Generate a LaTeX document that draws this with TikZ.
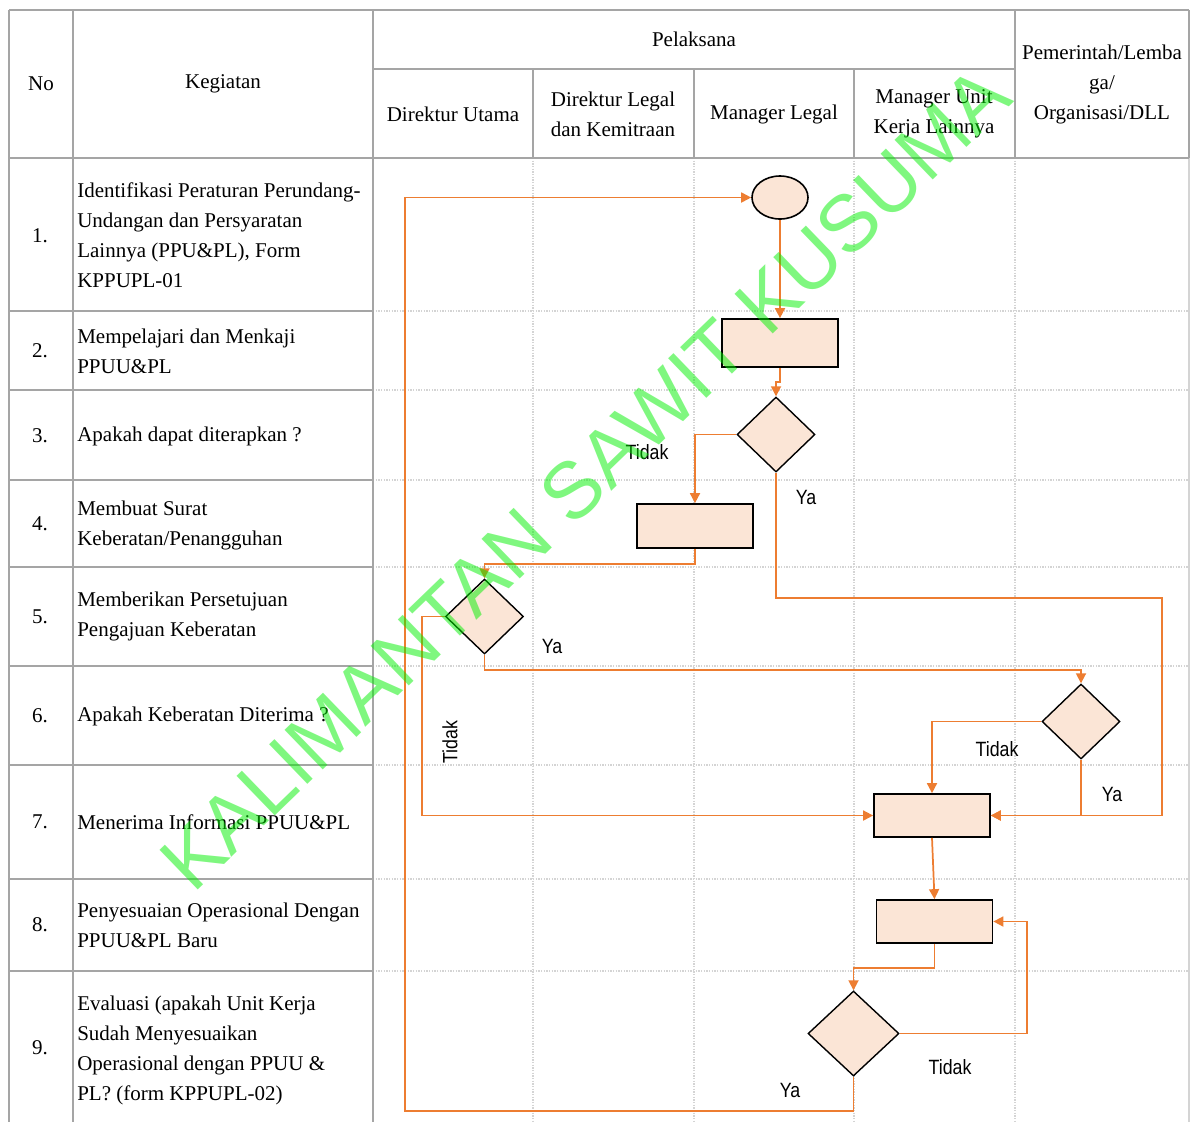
\documentclass[tikz,border=0pt]{standalone}
\usepackage{fontspec}
\setmainfont{Liberation Serif}
\newfontfamily\lblfont{Liberation Sans}
\newfontfamily\ynfont[FakeStretch=0.86]{Liberation Sans}
\usetikzlibrary{shapes.geometric,arrows.meta}
\definecolor{floworange}{RGB}{237,125,49}
\definecolor{boxfill}{RGB}{251,229,214}
\definecolor{tblgray}{RGB}{165,165,165}
\definecolor{lanegray}{RGB}{212,212,212}
\definecolor{wmgreen}{RGB}{0,240,0}

\begin{document}
\begin{tikzpicture}[x=0.75pt,y=-0.75pt,
  txt/.style={font=\fontsize{15.75}{22.5}\selectfont,align=left,anchor=west,inner sep=0pt},
  hdr/.style={font=\fontsize{15.75}{22.5}\selectfont,align=center,inner sep=0pt},
  tbl/.style={tblgray,line width=1.8pt},
  lane/.style={lanegray,line width=1pt,densely dotted},
  proc/.style={draw,fill=boxfill,line width=1.3pt,minimum width=87pt,minimum height=33pt,inner sep=0pt},
  dec/.style={diamond,draw,fill=boxfill,line width=1.05pt,minimum width=58.5pt,minimum height=56.25pt,inner sep=0pt},
  flow/.style={floworange,line width=1.3pt,-{Triangle[length=7.5pt,width=7.5pt]}},
  yn/.style={font=\ynfont\fontsize{15.5}{18}\selectfont,inner sep=1pt}]
      \useasboundingbox (0,0) rectangle (1192,1122);
      \foreach \y in {311,390,480,567,666,765,879,971} \draw[lane] (373,\y) -- (1189,\y);
      \foreach \x in {533,694,854,1015} \draw[lane] (\x,158) -- (\x,1122);
      \draw[lanegray,line width=1.8pt] (1189,158) -- (1189,1122);
      \draw[tbl] (9,10) -- (1189,10);
      \draw[tbl] (9,158) -- (1189,158);
      \draw[tbl] (373,69) -- (1015,69);
      \foreach \x in {9,73,373} \draw[tbl] (\x,10) -- (\x,1122);
      \foreach \x in {1015,1189} \draw[tbl] (\x,10) -- (\x,158);
      \foreach \x in {533,694,854} \draw[tbl] (\x,69) -- (\x,158);
      \foreach \y in {311,390,480,567,666,765,879,971} \draw[tbl] (9,\y) -- (373,\y);

      \node[hdr] (hNo) at (41,84) {No};
      \node[hdr] (hKeg) at (223,84) {Kegiatan};
      \node[hdr] (hPel) at (694,39) {Pelaksana};
      \node[hdr] (hDU) at (453,114) {Direktur Utama};
      \node[hdr] (hDL) at (613,114) {Direktur Legal\\dan Kemitraan};
      \node[hdr] (hML) at (774,114) {Manager Legal};
      \node[hdr] (hMU) at (934,114) {Manager Unit\\Kerja Lainnya};
      \node[hdr] (hPem) at (1102,84) {Pemerintah/Lemba\\ga/\\Organisasi/DLL};

      \foreach \i/\y in {1/236,2/351,3/436,4/524,5/617,6/716,7/822,8/925,9/1048}
        \node[hdr] (n\i) at (40,\y) {\i.};
      \node[txt] (k1) at (77,235) {Identifikasi Peraturan Perundang-\\Undangan dan Persyaratan\\Lainnya (PPU\&PL), Form\\KPPUPL-01};
      \node[txt] (k2) at (77,351) {Mempelajari dan Menkaji\\PPUU\&PL};
      \node[txt] (k3) at (77,436) {Apakah dapat diterapkan ?};
      \node[txt] (k4) at (77,525) {Membuat Surat\\Keberatan/Penangguhan};
      \node[txt] (k5) at (77,616) {Memberikan Persetujuan\\Pengajuan Keberatan};
      \node[txt] (k6) at (77,716) {Apakah Keberatan Diterima ?};
      \node[txt] (k7) at (77,822) {Menerima Informasi PPUU\&PL};
      \node[txt] (k8) at (77,925) {Penyesuaian Operasional Dengan\\PPUU\&PL Baru};
      \node[txt] (k9) at (77,1050) {Evaluasi (apakah Unit Kerja\\Sudah Menyesuaikan\\Operasional dengan PPUU \&\\PL? (form KPPUPL-02)};

      \node[ellipse,draw,fill=boxfill,line width=1.2pt,minimum width=42pt,minimum height=32.25pt,inner sep=0pt] (start) at (780,197.5) {};
      \node[proc,minimum height=36pt] (r1) at (780,343) {};
      \node[dec] (d1) at (776,434.5) {};
      \node[proc] (r2) at (695,526) {};
      \node[dec] (d2) at (484.5,616.5) {};
      \node[dec] (d3) at (1081,721.5) {};
      \node[proc,minimum height=32.25pt] (r3) at (932,815.5) {};
      \node[proc,minimum height=32.25pt] (r4) at (934.5,921.5) {};
      \node[dec,minimum width=68.25pt,minimum height=63.75pt] (d4) at (853.5,1033.5) {};
      \coordinate (yaR) at (1162,598);
      \coordinate (back) at (405,1111);

      \draw[flow] (start.south) -- (r1.north);
      \draw[flow] (r1.south) -- ++(0,14) -| (d1.north);
      \draw[flow] (d1.west) -| (r2.north);
      \draw[flow] (d1.south) |- (yaR) |- (r3.east);
      \draw[flow] (r2.south) -- ++(0,15) -| (d2.north);
      \draw[flow] (d2.south) -- ++(0,15) -| (d3.north);
      \draw[flow] (d2.west) -- ++(-23,0) |- (r3.west);
      \draw[flow] (d3.west) -| (r3.north);
      \draw[flow] (d3.south) |- (r3.east);
      \draw[flow] (r3.south) -- (r4.north);
      \draw[flow] (r4.south) -- ++(0,24) -| (d4.north);
      \draw[flow] (d4.east) -- ++(127,0) |- (r4.east);
      \draw[flow] (d4.south) |- (back) |- (start.west);

      \node[yn] (t1) at (647,452) {Tidak};
      \node[yn] (y1) at (806,497) {Ya};
      \node[yn] (y2) at (552,646) {Ya};
      \node[yn,rotate=90] (t2) at (450,742) {Tidak};
      \node[yn] (t3) at (997,749) {Tidak};
      \node[yn] (y3) at (1112,794) {Ya};
      \node[yn] (t4) at (950,1067) {Tidak};
      \node[yn] (y4) at (790,1090) {Ya};

      \node[rotate=44,text=wmgreen,opacity=0.5,font=\lblfont\fontsize{60}{60}\selectfont] (wm) at (585,478) {KALIMANTAN SAWIT KUSUMA};
\end{tikzpicture}
\end{document}
